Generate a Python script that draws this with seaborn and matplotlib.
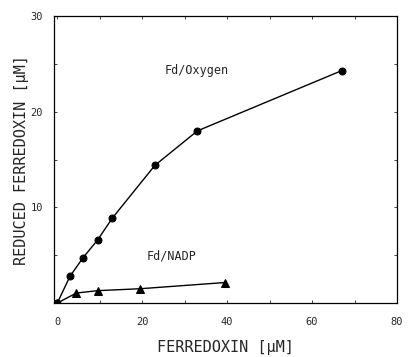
import numpy as np
import pandas as pd
import matplotlib
matplotlib.use("Agg")
import matplotlib.pyplot as plt
import seaborn as sns

# values
oxygen_fd = [0, 3.0, 6.0, 9.5, 13.0, 23.0, 33.0, 67.0]
oxygen_red = [0, 2.8, 4.7, 6.6, 8.9, 14.4, 18.0, 24.3]

nadp_fd = [0, 4.5, 9.5, 19.5, 39.5]
nadp_red = [0, 1.05, 1.3, 1.5, 2.15]

x_ticks = [0, 20, 40, 60, 80]
y_ticks = [10, 20, 30]

sns.set_style("ticks")
plt.rcParams['font.family'] = ['DejaVu Sans Mono', 'DejaVu Sans']

fig = plt.figure(figsize=(4.08, 3.57), dpi=100)
ax = fig.add_axes([0.132, 0.151, 0.841, 0.804])

df_ox = pd.DataFrame({"fd": oxygen_fd, "red": oxygen_red})
df_na = pd.DataFrame({"fd": nadp_fd, "red": nadp_red})

sns.lineplot(data=df_ox, x="fd", y="red", ax=ax, color="black", lw=1.0,
             marker="o", markersize=5, markeredgecolor="black", sort=False)
sns.lineplot(data=df_na, x="fd", y="red", ax=ax, color="black", lw=1.0,
             marker="^", markersize=5.5, markeredgecolor="black", sort=False)

ax.text(32.8, 24.3, "Fd/Oxygen", ha="center", va="center", fontsize=8.5)
ax.text(26.8, 4.9, "Fd/NADP", ha="center", va="center", fontsize=8.5)

ax.set_xlim(-0.8, 80)
ax.set_ylim(0, 30)
ax.set_xticks(x_ticks)
ax.set_yticks(y_ticks)
ax.set_xticks([10, 30, 50, 70], minor=True)
ax.set_yticks([5, 15, 25], minor=True)
ax.tick_params(which="both", direction="in", length=2, width=0.6,
               top=True, right=True, labelsize=7.5, pad=8)
ax.tick_params(axis="x", pad=10)

for s in ax.spines.values():
    s.set_linewidth(0.9)
    s.set_color("black")

ax.set_xlabel("FERREDOXIN [μM]", fontsize=11)
ax.set_ylabel("REDUCED FERREDOXIN [μM]", fontsize=11)
ax.xaxis.set_label_coords(0.5, -0.128)
ax.yaxis.set_label_coords(-0.072, 0.5)

fig.savefig("out.png", dpi=100)
